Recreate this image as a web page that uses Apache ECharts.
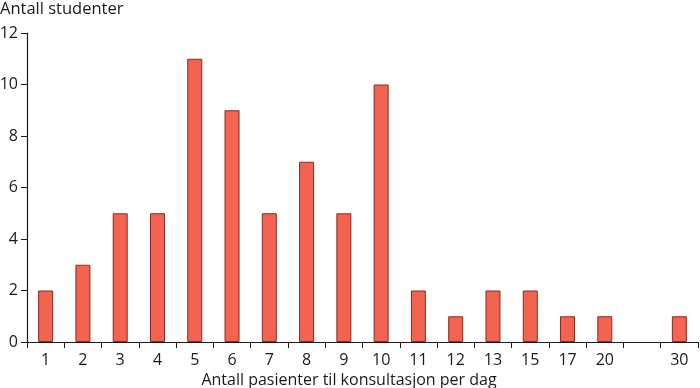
<!DOCTYPE html>
<html><head><meta charset="utf-8">
<script src="https://cdn.jsdelivr.net/npm/echarts@6/dist/echarts.min.js"></script>
<style>html,body{margin:0;padding:0;background:#fff}#c{width:700px;height:388px}</style>
</head><body><div id="c"></div>
<script>
const categories = ['1','2','3','4','5','6','7','8','9','10','11','12','13','15','17','20','','30'];
const values = [2,3,5,5,11,9,5,7,5,10,2,1,2,2,1,1,null,1];
const yTicks = [0,2,4,6,8,10,12];
const chart = echarts.init(document.getElementById('c'));
const font = 'Open Sans';
chart.setOption({
  animation:false,
  grid:{left:27,right:2,top:33,bottom:46,containLabel:false,outerBoundsMode:'none'},
  xAxis:{type:'category',data:categories,
    name:'Antall pasienter til konsultasjon per dag',nameLocation:'middle',nameGap:27,
    nameTextStyle:{color:'#1a1a1a',fontSize:16,fontFamily:font,padding:[0,27,0,0]},
    axisLine:{lineStyle:{color:'#1a1a1a',width:1.2}},
    axisTick:{show:true,alignWithLabel:false,length:6,lineStyle:{color:'#1a1a1a'}},
    axisLabel:{color:'#1a1a1a',fontSize:16,fontFamily:font,margin:10,interval:0}
  },
  yAxis:{type:'value',min:0,max:12,interval:2,
    axisLine:{show:true,lineStyle:{color:'#1a1a1a',width:1.2}},
    axisTick:{show:true,length:6,lineStyle:{color:'#1a1a1a'}},
    splitLine:{show:false},
    axisLabel:{color:'#1a1a1a',fontSize:16,fontFamily:font,margin:9,
      formatter:v=>yTicks.includes(v)?String(v):''}
  },
  graphic:[{type:'text',left:0,top:1,style:{text:'Antall studenter',fill:'#1a1a1a',fontSize:16.5,fontFamily:font}}],
  series:[{type:'bar',data:values,barWidth:15,
    itemStyle:{color:'#F26451',borderColor:'#8a2a1e',borderWidth:1}}]
});
</script></body></html>
